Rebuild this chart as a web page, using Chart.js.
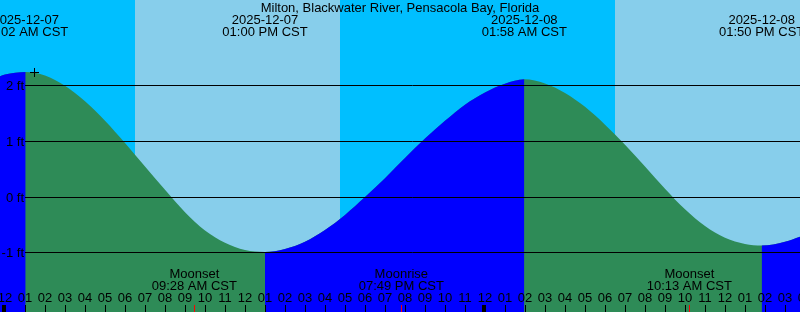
<!DOCTYPE html>
<html><head><meta charset="utf-8">
<script src="https://cdn.jsdelivr.net/npm/chart.js@4/dist/chart.umd.min.js"></script>
<style>
html,body{margin:0;padding:0;background:#00BFFF;overflow:hidden}
#wrap{width:800px;height:312px;position:relative}
</style>
</head><body>
<div id="wrap"><canvas id="c"></canvas></div>
<script>
// ---- data ----
const stationTitle = "Milton, Blackwater River, Pensacola Bay, Florida";
// hours since 2025-12-07 00:00 CST, tide height (ft)
const sampleHours   = [-0.25, 0, 2, 3, 4, 5, 6, 7, 8, 9, 10, 11, 12,
                       14, 15, 16, 17, 18, 19, 20, 21, 22, 23, 24, 25,
                       27, 28, 29, 30, 31, 32, 33, 34, 35, 36, 37,
                       39, 39.75];
const sampleHeights = [2.17, 2.20, 2.185, 2.00, 1.72, 1.37, 0.97, 0.55, 0.13, -0.27, -0.60, -0.82, -0.95,
                       -0.93, -0.80, -0.59, -0.32, 0.00, 0.34, 0.70, 1.05, 1.37, 1.66, 1.88, 2.035,
                       2.04, 1.87, 1.62, 1.30, 0.94, 0.55, 0.15, -0.22, -0.52, -0.73, -0.84,
                       -0.80, -0.71];
const extremeHours   = [1.033, 13.0, 25.967, 37.833];
const extremeHeights = [2.245, -0.985, 2.115, -0.87];
const extremeDates   = ["2025-12-07", "2025-12-07", "2025-12-08", "2025-12-08"];
const extremeTimes   = ["01:02 AM CST", "01:00 PM CST", "01:58 AM CST", "01:50 PM CST"];
const moonHours  = [9.467, 19.817, 34.217];
const moonEvents = ["Moonset", "Moonrise", "Moonset"];
const moonTimes  = ["09:28 AM CST", "07:49 PM CST", "10:13 AM CST"];
const sunriseHours = [6.5, 30.5];
const sunsetHours  = [16.75, 40.767];
const levelValues = [-1, 0, 1, 2];
const levelLabels = ["-1 ft", "0 ft", "1 ft", "2 ft"];
const hourTicks  = [0,1,2,3,4,5,6,7,8,9,10,11,12,13,14,15,16,17,18,19,20,
                    21,22,23,24,25,26,27,28,29,30,31,32,33,34,35,36,37,38,39,40];
const hourLabels = ["12","01","02","03","04","05","06","07","08","09","10","11",
                    "12","01","02","03","04","05","06","07","08","09","10","11",
                    "12","01","02","03","04","05","06","07","08","09","10","11",
                    "12","01","02","03","04"];
const midnightHours = [0, 24];
const markHours   = [1.475];
const markHeights = [2.237];

// ---- build chart ----
const tidePoints = [];
sampleHours.forEach((h, i) => tidePoints.push({x: h, y: sampleHeights[i]}));
extremeHours.forEach((h, i) => tidePoints.push({x: h, y: extremeHeights[i]}));
tidePoints.sort((a, b) => a.x - b.x);

const FLOOD = '#0000FF', EBB = '#2E8B57', DAY = '#87CEEB', NIGHT = '#00BFFF';
const FONT = '13px "Liberation Sans", Arial, sans-serif';

const tidePlugin = {
  id: 'tideDecor',
  beforeDraw(chart) {
    const {ctx, width, height} = chart;
    const xs = chart.scales.x;
    ctx.save();
    ctx.fillStyle = NIGHT;
    ctx.fillRect(0, 0, width, height);
    ctx.fillStyle = DAY;
    sunriseHours.forEach((h, i) => {
      const x0 = Math.round(xs.getPixelForValue(h));
      const x1 = Math.round(xs.getPixelForValue(sunsetHours[i]));
      ctx.fillRect(x0, 0, x1 - x0, height);
    });
    ctx.restore();
  },
  afterDatasetsDraw(chart) {
    const {ctx, width} = chart;
    const xs = chart.scales.x, ys = chart.scales.y;
    ctx.save();
    // level lines
    ctx.strokeStyle = '#000';
    ctx.lineWidth = 1;
    const labelRight = Math.round(xs.getPixelForValue(1)) - 1;
    levelValues.forEach(v => {
      const py = Math.floor(ys.getPixelForValue(v)) + 0.5;
      ctx.beginPath();
      ctx.moveTo(labelRight + 1, py);
      ctx.lineTo(width, py);
      ctx.stroke();
    });
    ctx.font = FONT;
    ctx.fillStyle = '#000';
    ctx.textBaseline = 'alphabetic';
    // level labels
    ctx.textAlign = 'right';
    levelValues.forEach((v, i) => {
      const py = Math.floor(ys.getPixelForValue(v));
      ctx.fillText(levelLabels[i], labelRight, py + 5);
    });
    ctx.textAlign = 'center';
    // title
    ctx.fillText(stationTitle, width / 2, 12);
    // extreme labels
    extremeHours.forEach((h, i) => {
      const px = xs.getPixelForValue(h);
      ctx.fillText(extremeDates[i], px, 24);
      ctx.fillText(extremeTimes[i], px, 36);
    });
    // moon labels
    moonHours.forEach((h, i) => {
      const px = xs.getPixelForValue(h);
      ctx.fillText(moonEvents[i], px, 278);
      ctx.fillText(moonTimes[i], px, 290);
    });
    // hour labels & ticks
    hourTicks.forEach((h, i) => {
      const px = xs.getPixelForValue(h);
      ctx.fillStyle = '#000';
      ctx.fillText(hourLabels[i], px, 302);
      ctx.fillRect(Math.round(px), 305, 1, 7);
    });
    midnightHours.forEach(h => {
      const px = Math.round(xs.getPixelForValue(h));
      ctx.fillRect(px - 3, 305, 3, 7);
    });
    ctx.fillStyle = '#FF0000';
    moonHours.forEach(h => {
      const px = Math.floor(xs.getPixelForValue(h));
      ctx.fillRect(px, 305, 1, 7);
    });
    ctx.restore();
  }
};

new Chart(document.getElementById('c'), {
  type: 'line',
  data: {
    datasets: [
      {
        type: 'scatter',
        data: markHours.map((h, i) => ({x: h, y: markHeights[i]})),
        pointStyle: 'cross',
        pointRadius: 4.5,
        borderColor: '#000',
        backgroundColor: '#000',
        borderWidth: 1,
        showLine: false
      },
      {
        // rising (flood) portions drawn over the base fill
        data: tidePoints,
        cubicInterpolationMode: 'monotone',
        pointRadius: 0,
        borderWidth: 0,
        borderColor: 'rgba(0,0,0,0)',
        backgroundColor: FLOOD,
        fill: 'start',
        segment: {
          backgroundColor: c => (c.p1.parsed.y > c.p0.parsed.y ? FLOOD : 'rgba(0,0,0,0)')
        }
      },
      {
        // base fill (falling / ebb colour)
        data: tidePoints,
        cubicInterpolationMode: 'monotone',
        pointRadius: 0,
        borderWidth: 0,
        borderColor: 'rgba(0,0,0,0)',
        backgroundColor: EBB,
        fill: 'start'
      }
    ]
  },
  options: {
    responsive: true,
    maintainAspectRatio: false,
    devicePixelRatio: 1,
    animation: false,
    events: [],
    layout: {padding: 0, autoPadding: false},
    scales: {
      x: {type: 'linear', min: -0.25, max: 39.75, display: false},
      y: {type: 'linear', min: -2.0628, max: 3.5386, display: false}
    },
    plugins: {legend: {display: false}, tooltip: {enabled: false}, title: {display: false}}
  },
  plugins: [tidePlugin]
});
</script>
</body></html>
